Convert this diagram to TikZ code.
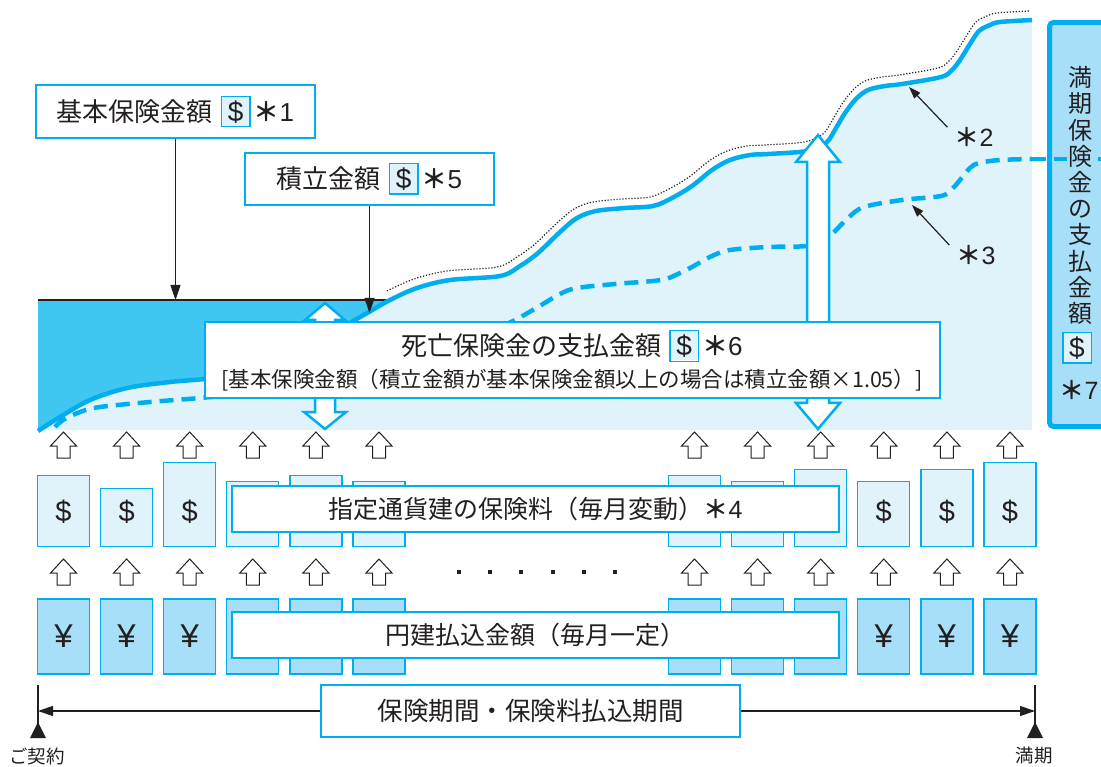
\documentclass[tikz,border=0pt]{standalone}
\usepackage{fontspec}
\setmainfont{Noto Sans CJK JP}[BoldFont={Noto Sans CJK JP Bold}]
\newfontfamily\latinfont{Liberation Sans}
\usetikzlibrary{arrows.meta,positioning}

\definecolor{cyanline}{HTML}{00AEEF}
\definecolor{darkarea}{HTML}{40C7F1}
\definecolor{lightarea}{HTML}{E0F3FB}
\definecolor{barfill}{HTML}{A8DFF8}
\definecolor{textcol}{HTML}{231F20}

\newcommand{\jpsize}[1]{\fontsize{#1}{#1}\selectfont}
\newcommand{\notemark}[1]{{\bfseries ＊}{\latinfont #1}}
\newcommand{\dollarbox}{{\setlength{\fboxsep}{0pt}\setlength{\fboxrule}{1.4pt}\fcolorbox{cyanline}{lightarea}{\makebox[27pt]{\rule[-4.5pt]{0pt}{29pt}\latinfont\jpsize{28}\$}}}}

\tikzset{pics/uparrow/.style={code={
  \draw[line width=1pt, fill=white] (0,0) -- (13,14) -- (6.5,14) -- (6.5,26) -- (-6.5,26) -- (-6.5,14) -- (-13,14) -- cycle;}}}

\begin{document}
\begin{tikzpicture}[x=1pt, y=-1pt, color=textcol, >={Triangle[length=15pt,width=10pt]},
  labelbox/.style={draw=cyanline, fill=white, line width=1.2pt, inner sep=0pt, font=\jpsize{26}},
  usdcol/.style={draw=cyanline, fill=lightarea, line width=1.3pt, minimum width=52pt, inner sep=0pt},
  yencol/.style={draw=cyanline, fill=barfill, line width=1.3pt, minimum width=52pt, minimum height=75pt, inner sep=0pt},
  bigarrow/.style={draw=cyanline, fill=white, line width=2.5pt, line join=miter},
  solidcurve/.style={cyanline, line width=4.5pt},
  dashedcurve/.style={cyanline, line width=4.5pt, dash pattern=on 14pt off 8pt},
  dotcurve/.style={textcol, line width=1.2pt, dash pattern=on 1.2pt off 1.8pt},
  note/.style={font=\jpsize{25}, inner sep=0pt}]

\useasboundingbox (0,0) rectangle (1101,767);

% Areas
\fill[darkarea] (38,300) rectangle (390,430);
\fill[lightarea] plot[smooth, tension=0.55] coordinates {(38,431) (60,417) (90,400) (127,388) (170,382) (205,379) (250,374) (290,360) (320,343) (350,323) (369,312) (390,300) (417,288) (450,280) (500,276) (520,266) (538,253) (560,232) (577,218) (596,211) (625,208) (653,206) (672,198) (692,186) (712,170) (730,160) (750,155) (768,154) (807,151) (826,143) (836,128) (845,113) (856,99) (868,90) (885,86) (902,84) (941,77) (952,70) (960,60) (970,44) (979,31) (990,25) (1000,22) (1032,20)} -- (1032,430) -- (38,430) -- cycle;
\draw[line width=1.2pt] (38,300) -- (390,300);

% Curves
\draw[solidcurve] plot[smooth, tension=0.55] coordinates {(38,431) (60,417) (90,400) (127,388) (170,382) (205,379) (250,374) (290,360) (320,343) (350,323) (369,312) (390,300) (417,288) (450,280) (500,276) (520,266) (538,253) (560,232) (577,218) (596,211) (625,208) (653,206) (672,198) (692,186) (712,170) (730,160) (750,155) (768,154) (807,151) (826,143) (836,128) (845,113) (856,99) (868,90) (885,86) (902,84) (941,77) (952,70) (960,60) (970,44) (979,31) (990,25) (1000,22) (1032,20)};
\draw[dotcurve] plot[smooth, tension=0.55] coordinates {(387,291) (414,279) (447,271) (497,267) (517,257) (535,244) (557,223) (574,209) (593,202) (622,199) (650,197) (669,189) (689,177) (709,161) (727,151) (747,146) (765,145) (804,142) (823,134) (833,119) (842,104) (853,90) (865,81) (882,77) (899,75) (938,68) (949,61) (957,51) (967,35) (976,22) (987,16) (997,13) (1029,11)};
\draw[dashedcurve] plot[smooth, tension=0.55] coordinates {(55,427) (63,420) (80,412) (100,407) (150,402) (200,398) (260,392) (320,380) (380,362) (440,345) (480,334) (511,322) (538,307) (560,294) (577,288) (615,284) (661,280) (680,273) (692,267) (712,256) (730,250) (768,247) (807,246) (822,240) (833,233) (848,218) (864,207) (902,200) (941,196) (952,189) (960,180) (970,168) (979,163) (1000,160) (1032,159)};

% Double arrows
\draw[bigarrow] (325,303) -- (345,320) -- (335,320) -- (335,412) -- (346,412) -- (325,429) -- (304,412) -- (315,412) -- (315,320) -- (305,320) -- cycle;
\draw[bigarrow] (818,135) -- (840,162) -- (829,162) -- (829,403) -- (840,403) -- (818,429) -- (796,403) -- (807,403) -- (807,162) -- (796,162) -- cycle;

% Death benefit
\node[labelbox, minimum width=735pt, minimum height=76pt] (death) at (572.5,360) {};
\node[font=\jpsize{26}] (deathtitle) at (572,346) {死亡保険金の支払金額\hspace{8pt}\dollarbox\hspace{3pt}\notemark{6}};
\node[font=\jpsize{21.5}] (deathnote) at (572,380) {[基本保険金額（積立金額が基本保険金額以上の場合は積立金額×1.05）]};

% Labels
\node[labelbox, minimum width=279pt, minimum height=53pt] (basic) at (175.5,111.5) {基本保険金額\hspace{8pt}\dollarbox\hspace{3pt}\notemark{1}};
\node[labelbox, minimum width=249pt, minimum height=52pt] (fund) at (369.5,179) {積立金額\hspace{8pt}\dollarbox\hspace{3pt}\notemark{5}};
\coordinate (basictip) at (175.5,300);
\coordinate (fundtip) at (369.5,313);
\draw[->, line width=1.2pt] (basic) -- (basictip);
\draw[->, line width=1.2pt] (fund) -- (fundtip);

% Notes
\node[note] (note2) at (974,137) {\notemark{2}};
\node[note] (note3) at (976,255) {\notemark{3}};
\coordinate (tip2) at (909,87);
\coordinate (tip3) at (912,205);
\draw[-{Triangle[length=12pt,width=8pt]}, line width=1.2pt] ([xshift=-7pt]note2.north west) -- (tip2);
\draw[-{Triangle[length=12pt,width=8pt]}, line width=1.2pt] ([xshift=-7pt]note3.north west) -- (tip3);

% Maturity bar
\draw[cyanline, line width=5pt, fill=barfill, rounded corners=4pt] (1049.5,22.5) rectangle (1120,426.5);
\draw[dashedcurve] (1032,159) -- (1101,159);
\node[fill=barfill, inner sep=1pt, align=center, font={\fontsize{24}{26.2}\selectfont}] (maturitytext) at (1080,195.5) {満\\期\\保\\険\\金\\の\\支\\払\\金\\額};
\node[inner sep=0pt] (barusd) at (1077,348) {\dollarbox};
\node[note] (note7) at (1079,390) {\notemark{7}};

% Premium columns
\foreach \k/\boxtop in {0/476,1/489,2/463,3/482,4/476,5/482,10/476,11/482,12/470,13/482,14/470,15/463} {
  \pgfmathsetmacro\cx{63.5+63.1*\k}
  \node[usdcol, minimum height={547-\boxtop}, anchor=south] (usd\k) at (\cx,547) {};
  \node[yencol] (yen\k) at (\cx,636.5) {};
  \pic at (\cx,432) {uparrow};
  \pic at (\cx,559) {uparrow};
}
\foreach \k in {0,1,2,13,14,15} {
  \pgfmathsetmacro\cx{63.5+63.1*\k}
  \node[font=\latinfont\jpsize{29}] (usdsign\k) at (\cx,512) {\$};
  \node[font=\latinfont\jpsize{33}] (yensign\k) at (\cx,636) {¥};
}
\foreach \x in {459,490,521,553,584,615}
  \fill (\x-2,570) rectangle (\x+2,574);

\node[labelbox, minimum width=607pt, minimum height=46pt, font=\jpsize{25}] (usdprem) at (535.5,509) {指定通貨建の保険料（毎月変動）\notemark{4}};
\node[labelbox, minimum width=607pt, minimum height=46pt, font=\jpsize{25}] (yenpay) at (535.5,635) {円建払込金額（毎月一定）};

% Period
\node[labelbox, minimum width=419pt, minimum height=52pt, font=\jpsize{25.5}] (period) at (530.5,711) {保険期間・保険料払込期間};
\coordinate (startpt) at (38,711);
\coordinate (endpt) at (1035,711);
\draw[line width=1.2pt] (38,685) -- (38,737);
\draw[line width=1.2pt] (1035,685) -- (1035,737);
\fill (38,722) -- (46,738) -- (30,738) -- cycle;
\fill (1035,722) -- (1043,738) -- (1027,738) -- cycle;
\draw[->, line width=1.2pt] (period) -- (startpt);
\draw[->, line width=1.2pt] (period) -- (endpt);
\node[font=\jpsize{18.5}] (signup) at (37,756) {ご契約};
\node[font=\jpsize{18.5}] (maturity) at (1034,756) {満期};

\end{tikzpicture}
\end{document}
